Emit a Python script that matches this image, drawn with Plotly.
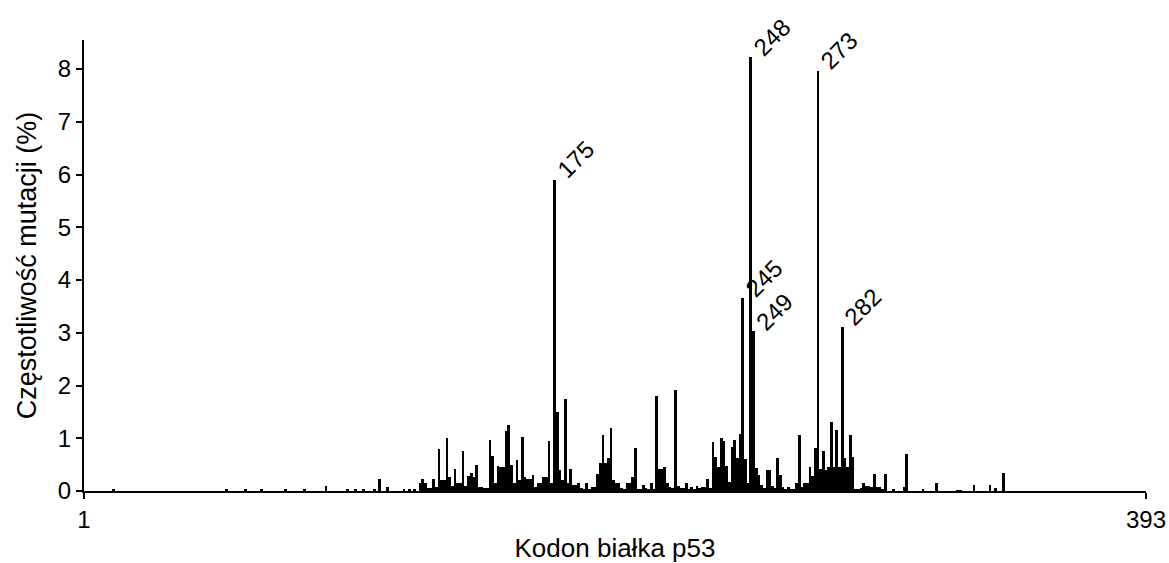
import plotly.graph_objects as go

# codon numbers and mutation frequency (%)
codons = [11, 53, 60, 66, 75, 82, 90, 98, 101, 104, 108, 110, 113, 119, 121, 123,
          125, 126, 127, 128, 129, 130, 131, 132, 133, 134, 135, 136, 137, 138, 139, 140,
          141, 142, 143, 144, 145, 146, 147, 148, 149, 150, 151, 152, 153, 154, 155, 156,
          157, 158, 159, 160, 161, 162, 163, 164, 165, 166, 167, 168, 169, 170, 171, 172,
          173, 174, 175, 176, 177, 178, 179, 180, 181, 182, 183, 184, 185, 186, 187, 188,
          189, 190, 191, 192, 193, 194, 195, 196, 197, 198, 199, 200, 201, 202, 203, 204,
          205, 206, 207, 208, 209, 210, 211, 212, 213, 214, 215, 216, 217, 218, 219, 220,
          221, 222, 223, 224, 225, 226, 227, 228, 229, 230, 231, 232, 233, 234, 235, 236,
          237, 238, 239, 240, 241, 242, 243, 244, 245, 246, 247, 248, 249, 250, 251, 252,
          253, 254, 255, 256, 257, 258, 259, 260, 261, 262, 263, 264, 265, 266, 267, 268,
          269, 270, 271, 272, 273, 274, 275, 276, 277, 278, 279, 280, 281, 282, 283, 284,
          285, 286, 287, 288, 289, 290, 291, 292, 293, 294, 295, 296, 297, 298, 301, 305,
          306, 312, 317, 325, 326, 331, 337, 339, 342]
freq = [0.02, 0.04, 0.02, 0.02, 0.02, 0.03, 0.09, 0.04, 0.04, 0.03, 0.03, 0.23, 0.07, 0.02, 0.02, 0.02,
        0.15, 0.23, 0.15, 0.05, 0.05, 0.22, 0.07, 0.79, 0.2, 0.2, 1.0, 0.26, 0.1, 0.41, 0.15, 0.15,
        0.76, 0.1, 0.29, 0.35, 0.27, 0.5, 0.08, 0.08, 0.05, 0.05, 0.97, 0.66, 0.16, 0.47, 0.45, 0.45,
        1.13, 1.25, 0.5, 0.15, 0.59, 0.2, 1.03, 0.26, 0.23, 0.23, 0.3, 0.08, 0.15, 0.15, 0.27, 0.27,
        0.95, 0.15, 5.9, 1.49, 0.39, 0.2, 1.75, 0.15, 0.42, 0.11, 0.11, 0.16, 0.05, 0.02, 0.15, 0.02,
        0.08, 0.08, 0.32, 0.54, 1.06, 0.54, 0.62, 1.19, 0.2, 0.16, 0.16, 0.05, 0.02, 0.15, 0.15, 0.26,
        0.81, 0.02, 0.02, 0.11, 0.05, 0.02, 0.15, 0.02, 1.8, 0.41, 0.41, 0.46, 0.16, 0.08, 0.05, 1.92,
        0.09, 0.05, 0.05, 0.16, 0.02, 0.08, 0.04, 0.09, 0.05, 0.08, 0.08, 0.23, 0.05, 0.92, 0.65, 0.46,
        1.0, 0.94, 0.47, 0.18, 0.84, 0.97, 0.62, 1.09, 3.65, 0.6, 0.16, 8.22, 3.03, 0.43, 0.3, 0.11,
        0.05, 0.39, 0.39, 0.09, 0.05, 0.62, 0.3, 0.08, 0.02, 0.07, 0.02, 0.02, 0.15, 1.06, 0.08, 0.15,
        0.15, 0.45, 0.29, 0.81, 7.97, 0.41, 0.76, 0.4, 0.46, 1.3, 0.45, 1.16, 0.45, 3.11, 0.63, 0.45,
        1.06, 0.65, 0.02, 0.02, 0.05, 0.16, 0.1, 0.1, 0.07, 0.32, 0.08, 0.07, 0.02, 0.32, 0.04, 0.08,
        0.7, 0.02, 0.15, 0.01, 0.01, 0.11, 0.11, 0.05, 0.35]

labelled = [175, 245, 248, 249, 273, 282]
y_ticks = [0, 1, 2, 3, 4, 5, 6, 7, 8]
x_tick_text = ["1", "393"]

font_family = "Liberation Sans, Arial, sans-serif"

fig = go.Figure()
fig.add_trace(go.Bar(x=codons, y=freq, marker=dict(color="black", line=dict(width=0)),
                     hoverinfo="x+y"))

for c in labelled:
    v = freq[codons.index(c)]
    fig.add_annotation(x=c, y=v, text=str(c), showarrow=False, textangle=-45,
                       xshift=21, yshift=20,
                       font=dict(family=font_family, size=24, color="black"))

fig.update_layout(
    width=1169, height=563,
    margin=dict(l=84, r=23, t=40, b=72, autoexpand=False),
    plot_bgcolor="white", paper_bgcolor="white",
    bargap=0,
    showlegend=False,
    font=dict(family=font_family, color="black"),
    xaxis=dict(range=[0, 395], tickvals=[0, 395], ticktext=x_tick_text,
               showgrid=False, zeroline=False, showline=True, linecolor="black",
               linewidth=2, ticks="outside", ticklen=6, tickwidth=2, tickcolor="black",
               tickfont=dict(size=24),
               title=dict(text="Kodon białka p53", font=dict(size=26), standoff=9)),
    yaxis=dict(range=[0, 8.55], tickvals=y_ticks,
               showgrid=False, zeroline=False, showline=True, linecolor="black",
               linewidth=2, ticks="outside", ticklen=6, tickwidth=2, tickcolor="black",
               tickfont=dict(size=24),
               title=dict(text="Częstotliwość mutacji (%)", font=dict(size=27), standoff=13)),
)

# remove the default 8 px page margin so the figure fills the window exactly
fig.write_html("out.html", config={"displayModeBar": False},
               post_script="document.body.style.margin='0';document.body.style.overflow='hidden';")
